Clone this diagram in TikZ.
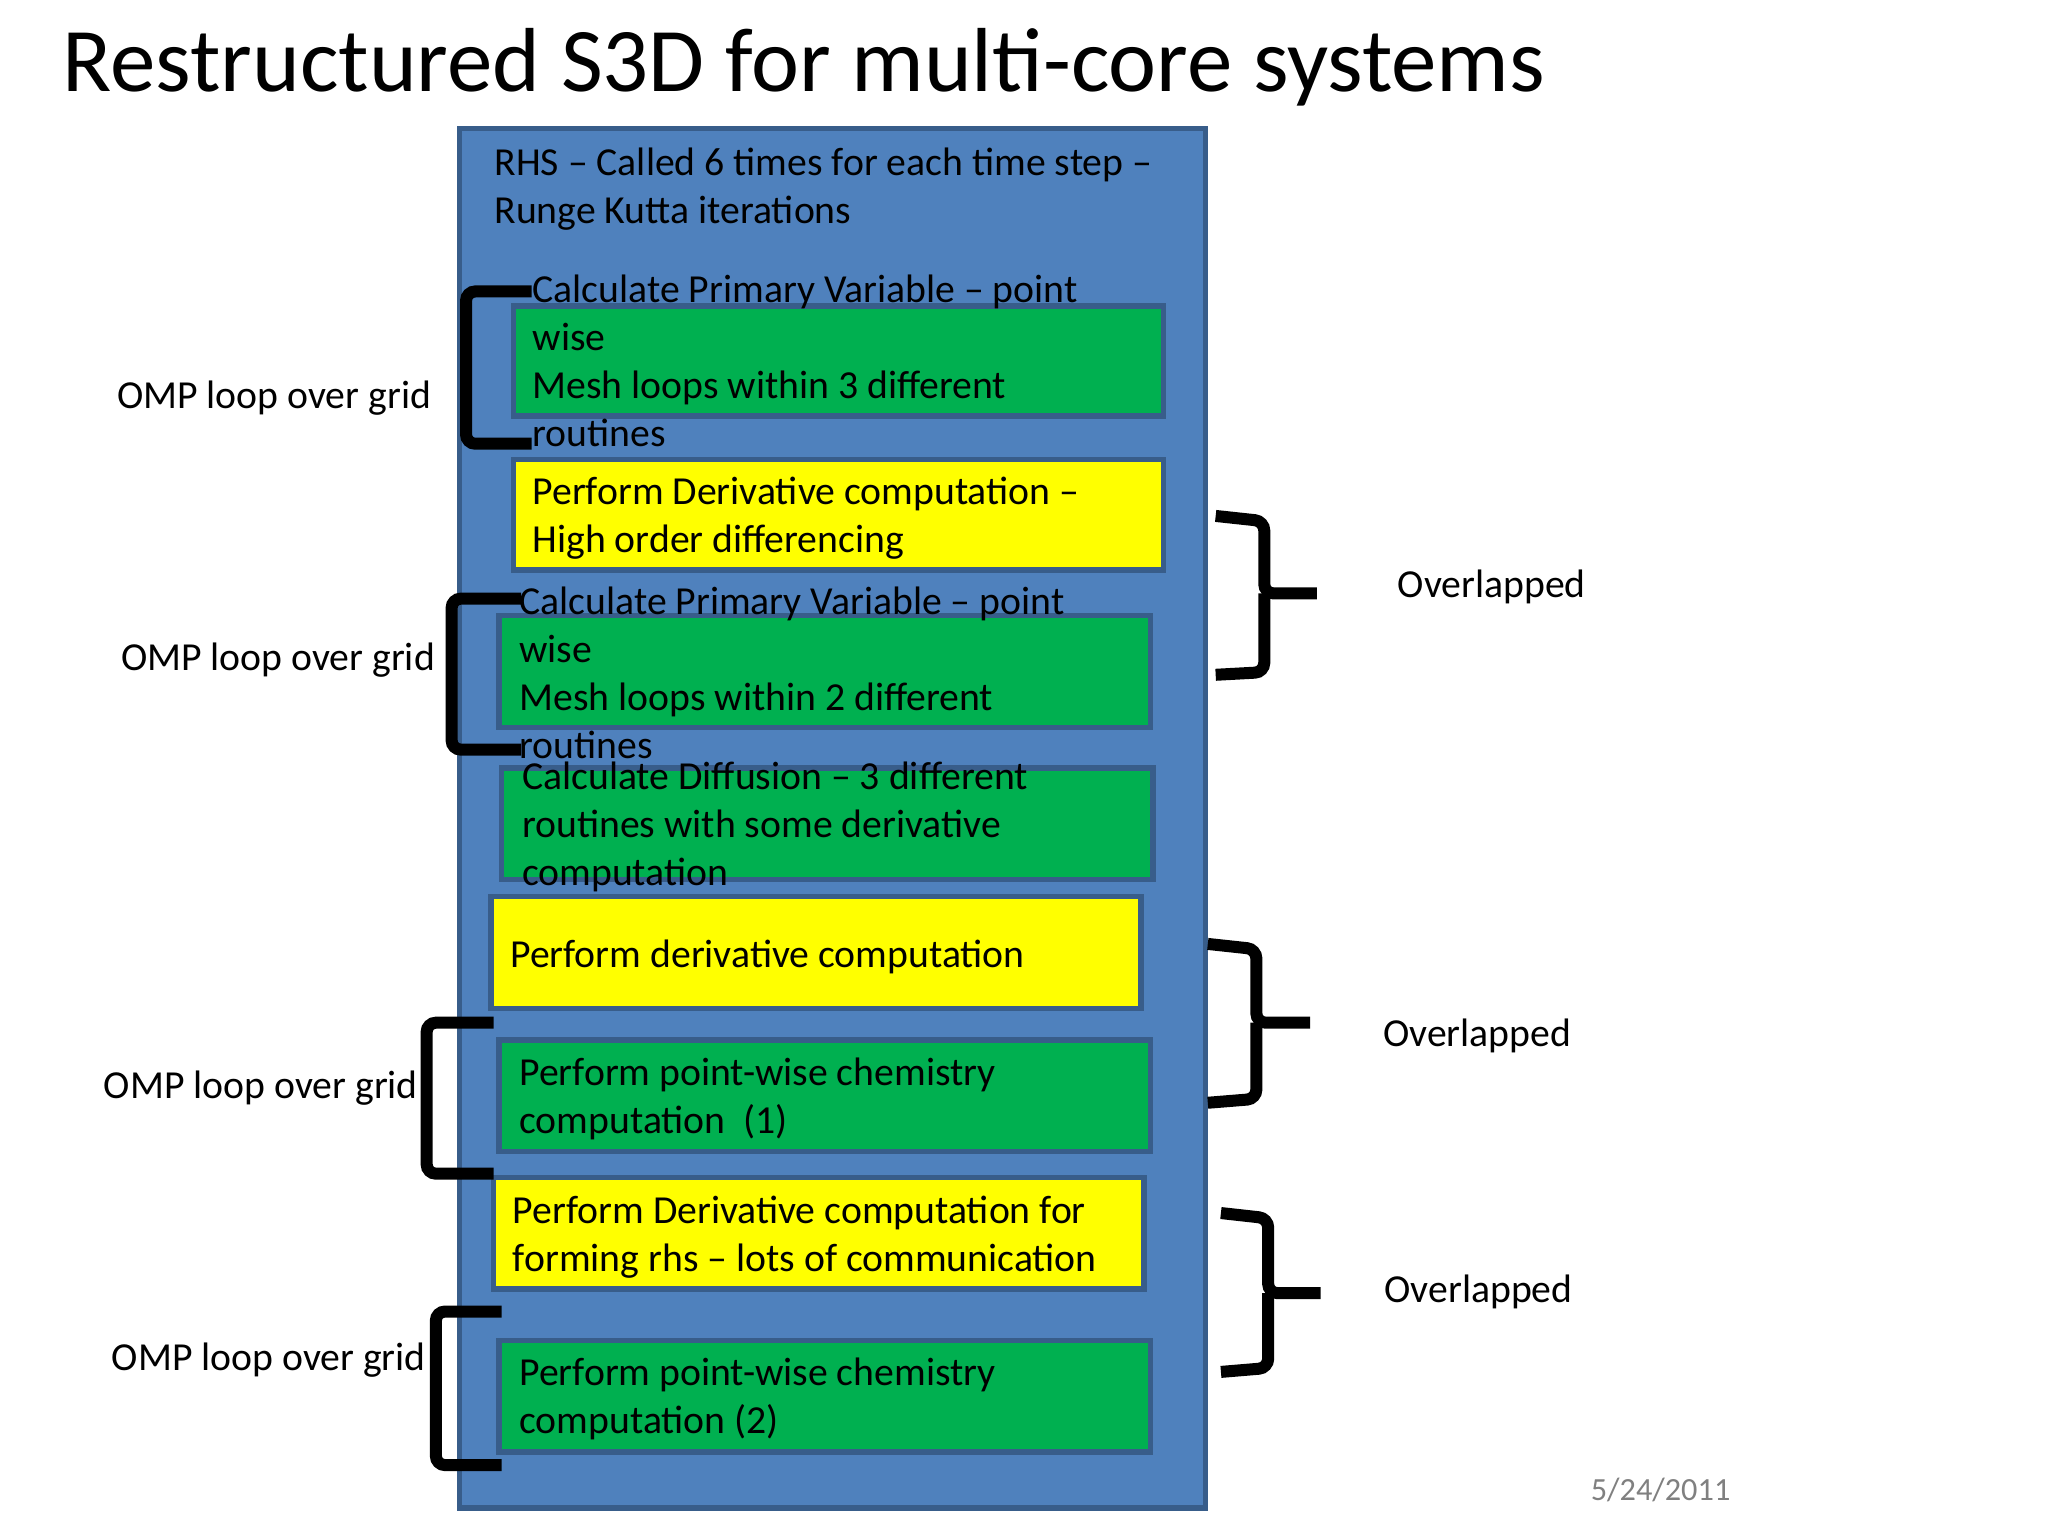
\documentclass[tikz,border=0pt]{standalone}
\usepackage{fontspec}
\setmainfont{Carlito}
\definecolor{rhsblue}{HTML}{4F81BD}
\definecolor{rhsline}{HTML}{385D8A}
\definecolor{grn}{HTML}{00B050}
\definecolor{ylw}{HTML}{FFFF00}
\begin{document}
\begin{tikzpicture}[x=0.01cm,y=-0.01cm,
  blk/.style={draw=rhsline, line width=1.2pt, anchor=north west, inner sep=0pt, outer sep=0pt},
  txt/.style={anchor=north west, inner sep=0pt, align=left,
    font=\fontsize{8.6pt}{10.4pt}\selectfont},
  lbl/.style={inner sep=0pt, font=\fontsize{8.6pt}{10.4pt}\selectfont},
  brk/.style={line width=2.6pt, rounded corners=2pt}]
\useasboundingbox (0,0) rectangle (1560,1170);
\node (title) [anchor=base west, inner sep=0pt, font=\fontsize{19.7pt}{24pt}\selectfont] at (47,70) {Restructured S3D for multi-core systems};
\node (rhs) [blk, fill=rhsblue, minimum width=5.68cm, minimum height=10.50cm] at (350,98) {};
\node (rhst) [txt] at (376,112) {RHS -- Called 6 times for each time step --\\Runge Kutta iterations};
% boxes
\node (g1) [blk, fill=grn, minimum width=4.95cm, minimum height=0.84cm] at (391,233) {};
\node (y1) [blk, fill=ylw, minimum width=4.95cm, minimum height=0.84cm] at (391,350) {};
\node (g2) [blk, fill=grn, minimum width=4.96cm, minimum height=0.85cm] at (380,469) {};
\node (g3) [blk, fill=grn, minimum width=4.96cm, minimum height=0.85cm] at (382,585) {};
\node (y2) [blk, fill=ylw, minimum width=4.95cm, minimum height=0.85cm] at (374,683) {};
\node (g4) [blk, fill=grn, minimum width=4.96cm, minimum height=0.85cm] at (380,792) {};
\node (y3) [blk, fill=ylw, minimum width=4.95cm, minimum height=0.85cm] at (376,897) {};
\node (g5) [blk, fill=grn, minimum width=4.96cm, minimum height=0.85cm] at (380,1021) {};
% texts
\node (g1t) [txt] at (405,209) {Calculate Primary Variable -- point\\wise\\Mesh loops within 3 different\\routines};
\node (y1t) [txt] at (405,363) {Perform Derivative computation --\\High order differencing};
\node (g2t) [txt] at (395,446) {Calculate Primary Variable -- point\\wise\\Mesh loops within 2 different\\routines};
\node (g3t) [txt] at (397,580) {Calculate Diffusion -- 3 different\\routines with some derivative\\computation};
\node (y2t) [txt] at (388,715) {Perform derivative computation};
\node (g4t) [txt] at (395,805) {Perform point-wise chemistry\\computation~~(1)};
\node (y3t) [txt] at (390,910) {Perform Derivative computation for\\forming rhs -- lots of communication};
\node (g5t) [txt] at (395,1034) {Perform point-wise chemistry\\computation (2)};
% left brackets
\draw[brk] (405,222) -- (355,222) -- (355,338) -- (405,338);
\draw[brk] (397,456) -- (344,456) -- (344,571) -- (397,571);
\draw[brk] (376,779) -- (325,779) -- (325,894) -- (376,894);
\draw[brk] (382,999) -- (332,999) -- (332,1116) -- (382,1116);
\node (o1) [lbl, anchor=east] at (329,303) {OMP loop over grid};
\node (o2) [lbl, anchor=east] at (332,503) {OMP loop over grid};
\node (o3) [lbl, anchor=east] at (319,829) {OMP loop over grid};
\node (o4) [lbl, anchor=east] at (325,1036) {OMP loop over grid};
% right braces
\draw[brk] (926,393) -- (963,397) -- (963,452) -- (1003,452);
\draw[brk] (963,452) -- (963,512) -- (926,514);
\draw[brk] (920,719) -- (957,723) -- (957,779) -- (998,779);
\draw[brk] (957,779) -- (957,837) -- (920,840);
\draw[brk] (930,924) -- (966,928) -- (966,985) -- (1006,985);
\draw[brk] (966,985) -- (966,1042) -- (930,1045);
\node (ov1) [lbl, anchor=west] at (1064,447) {Overlapped};
\node (ov2) [lbl, anchor=west] at (1053,789) {Overlapped};
\node (ov3) [lbl, anchor=west] at (1054,984) {Overlapped};
\node (date) [lbl, anchor=west, text=gray, font=\fontsize{7pt}{8pt}\selectfont] at (1211,1135) {5/24/2011};
\end{tikzpicture}
\end{document}
